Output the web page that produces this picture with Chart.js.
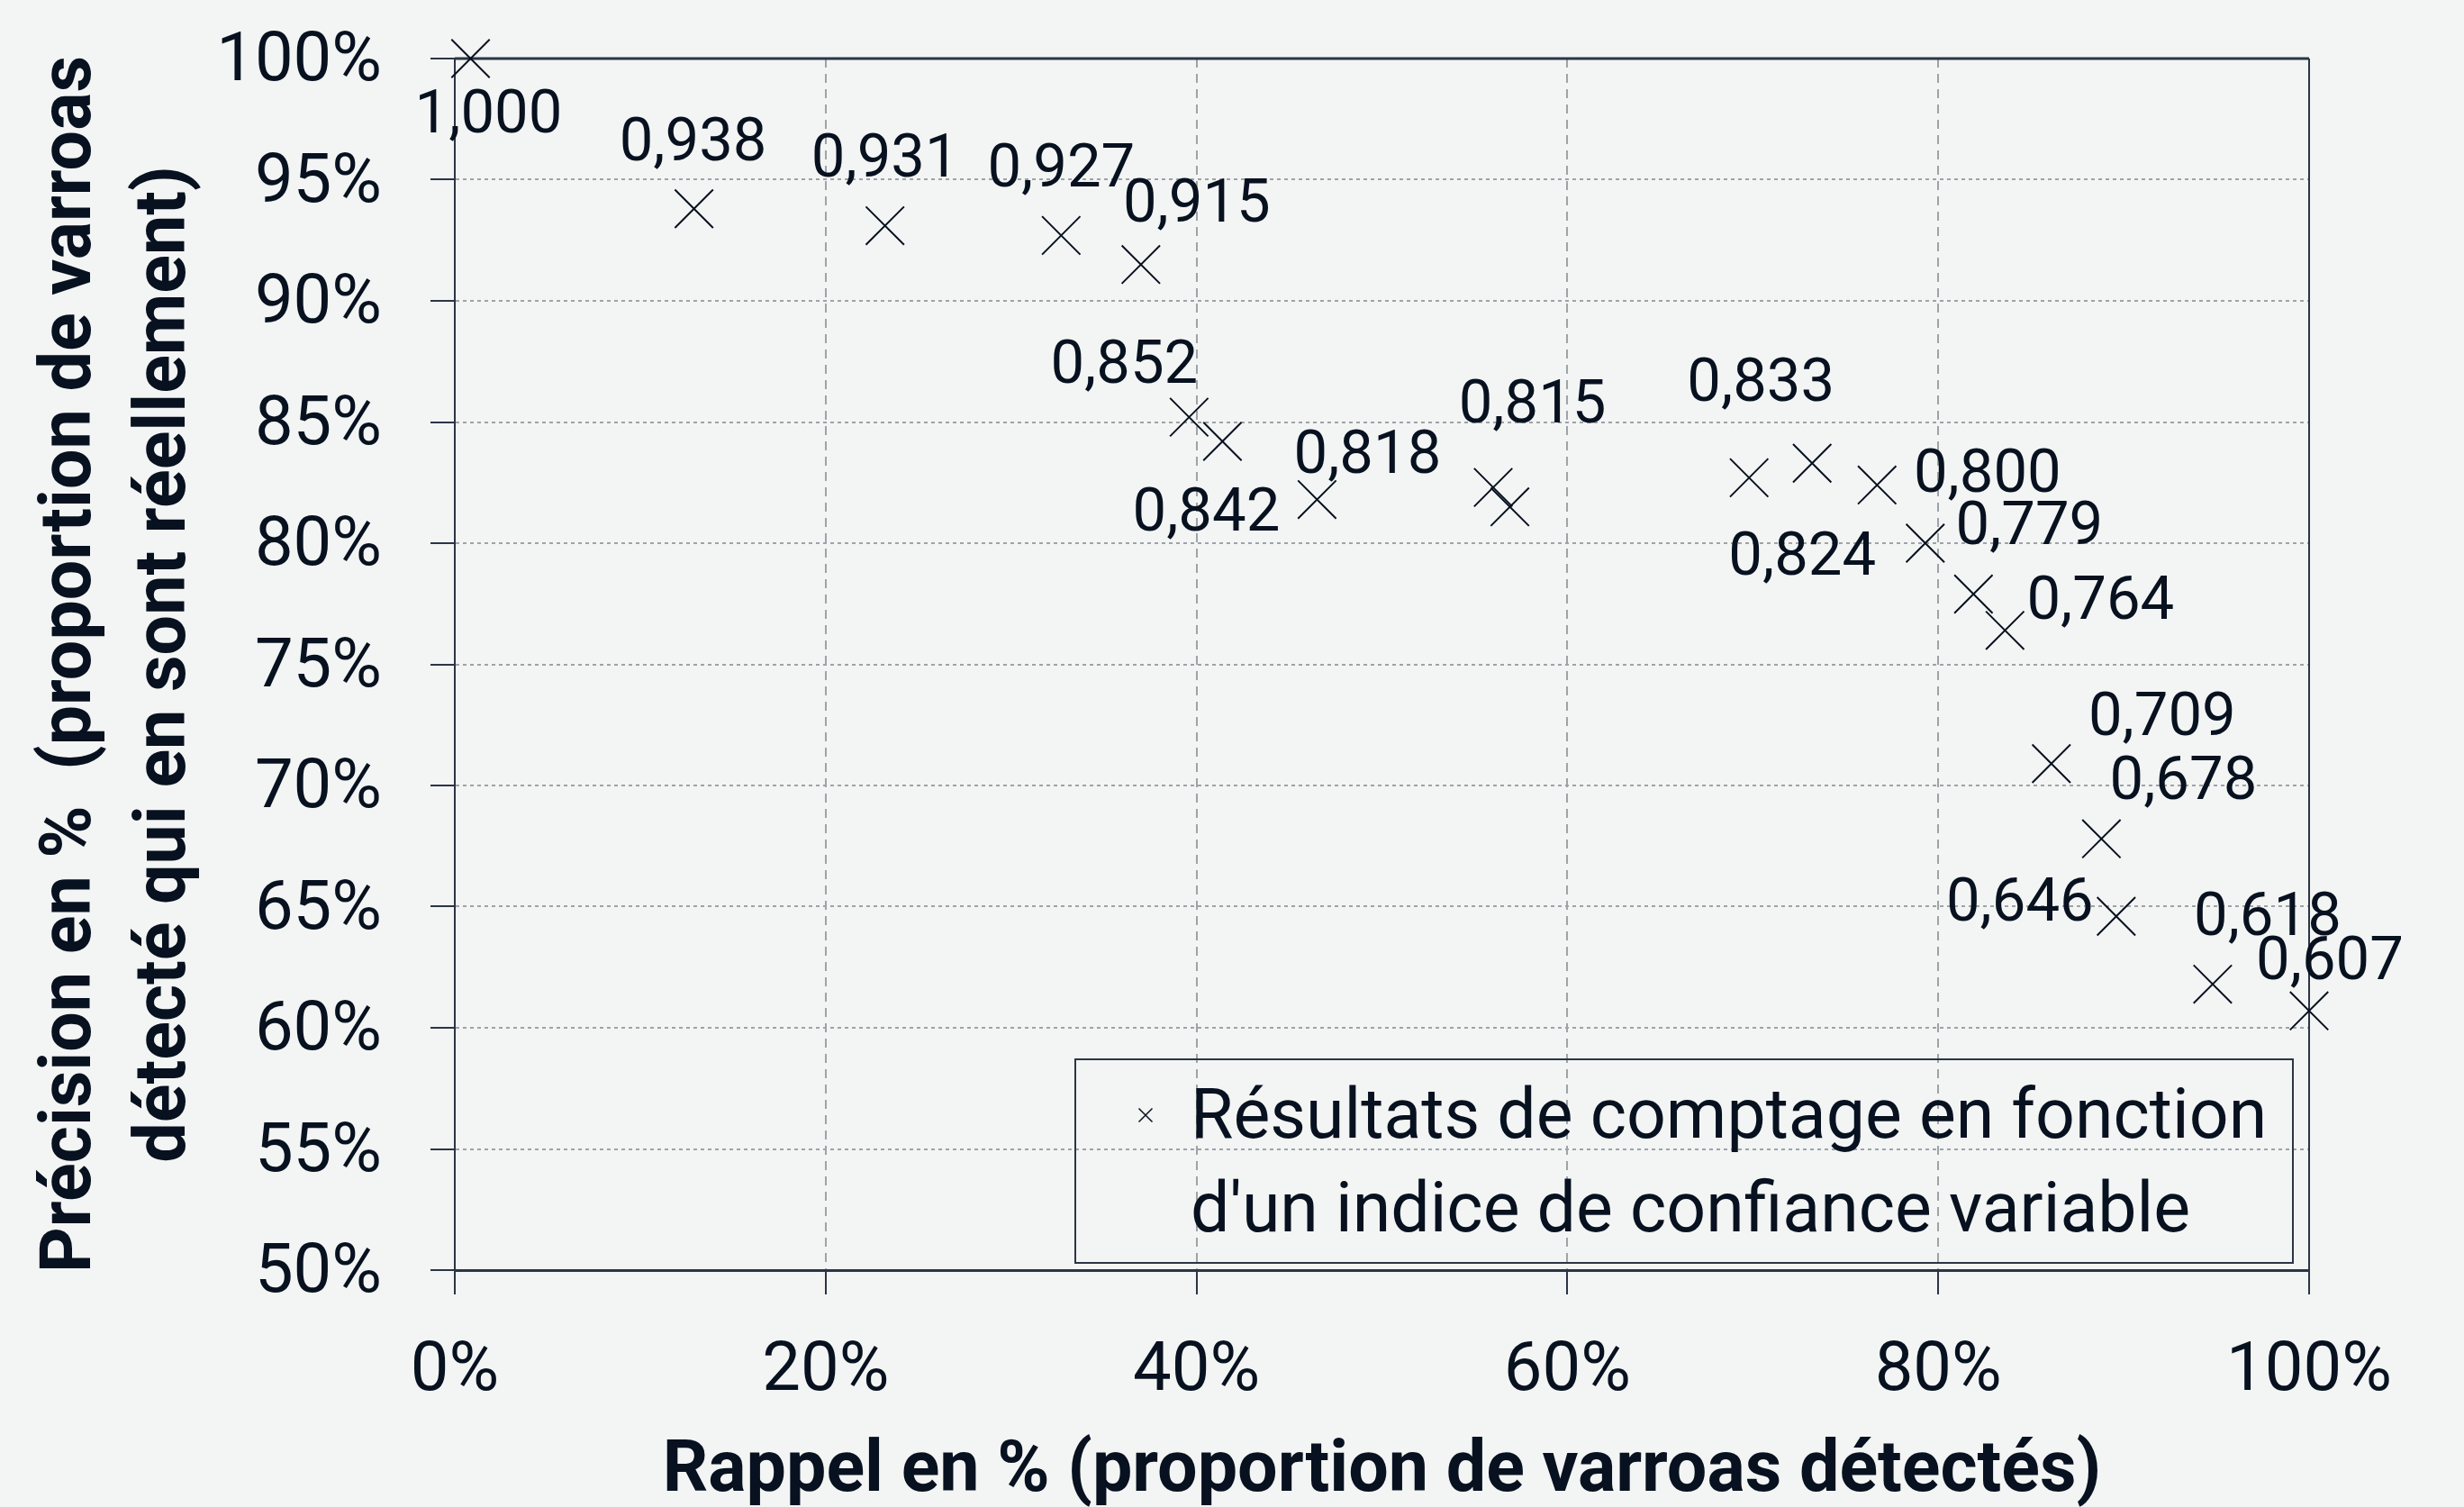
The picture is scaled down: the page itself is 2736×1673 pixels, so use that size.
<!DOCTYPE html>
<html>
<head>
<meta charset="utf-8">
<script src="https://cdn.jsdelivr.net/npm/chart.js@4.4.0/dist/chart.umd.min.js"></script>
<style>
  html, body { margin: 0; padding: 0; background: #f3f5f4; }
  #wrap { width: 2736px; height: 1673px; }
</style>
</head>
<body>
<div id="wrap"><canvas id="prChart" width="2736" height="1673"></canvas></div>
<script>
// ── Précision / rappel ──
const recall    = [0.85, 12.9, 23.2, 32.7, 37.0, 39.6, 41.4, 46.5, 56.0, 56.9, 69.8,
                   73.2, 76.7, 79.3, 81.9, 83.6, 86.1, 88.8, 89.6, 94.8, 100];
const precision = [1.000, 0.938, 0.931, 0.927, 0.915, 0.852, 0.842, 0.818, 0.823, 0.815, 0.827,
                   0.833, 0.824, 0.800, 0.779, 0.764, 0.709, 0.678, 0.646, 0.618, 0.607];
const xTicks = [0, 20, 40, 60, 80, 100];
const yTicks = [50, 55, 60, 65, 70, 75, 80, 85, 90, 95, 100];

// label placement next to each cross (px), null = no label
const labelOffsets = [[20, 59], [-1, -77], [0, -77], [0, -77], [62, -70], [-72, -61], [-18, 76],
                      [56, -52], null, [25, -116], null, [-57, -92], [-83, 77], [69, -80],
                      [62, -78], [106, -36], [123, -55], [91, -67], [-107, -18], [61, -77], [23, -58]];

const INK = '#07111f';
const AXIS = '#2b3545';
const GRID = '#9ea3a8';
const FONT = 'Roboto';

const bgPlugin = {
  id: 'bg',
  beforeDraw(chart) {
    const c = chart.ctx;
    c.save();
    c.fillStyle = '#f3f5f4';
    c.fillRect(0, 0, chart.width, chart.height);
    c.restore();
  },
  beforeDatasetsDraw(chart) {
    // top + right frame of the plot area
    const {ctx: c, chartArea: a} = chart;
    c.save();
    c.strokeStyle = AXIS;
    c.lineWidth = 3;
    c.beginPath(); c.moveTo(a.left, a.top); c.lineTo(a.right, a.top); c.stroke();
    c.lineWidth = 2;
    c.beginPath(); c.moveTo(a.right, a.top); c.lineTo(a.right, a.bottom); c.stroke();
    c.restore();
  }
};

const labelPlugin = {
  id: 'pointLabels',
  afterDatasetsDraw(chart) {
    const c = chart.ctx;
    const meta = chart.getDatasetMeta(0);
    c.save();
    c.font = '67px ' + FONT;
    c.fillStyle = INK;
    c.textAlign = 'center';
    c.textBaseline = 'middle';
    meta.data.forEach((pt, i) => {
      const off = labelOffsets[i];
      if (!off) return;
      const txt = precision[i].toFixed(3).replace('.', ',');
      c.fillText(txt, pt.x + off[0], pt.y + off[1] + 6);
    });
    c.restore();
  }
};

const legendPlugin = {
  id: 'boxLegend',
  afterDraw(chart) {
    const {ctx: c, chartArea: a} = chart;
    const ds = chart.data.datasets[0];
    const lines = ds.label.split('\n');
    const right = a.right - 18, bottom = a.bottom - 8;
    const left = right - 1352, top = bottom - 226;
    c.save();
    c.strokeStyle = AXIS;
    c.lineWidth = 2;
    c.strokeRect(left, top, right - left, bottom - top);
    // marker
    c.lineWidth = 1.5;
    c.strokeStyle = INK;
    const mx = left + 78, my = top + 62, r = 7.5;
    c.beginPath();
    c.moveTo(mx - r, my - r); c.lineTo(mx + r, my + r);
    c.moveTo(mx - r, my + r); c.lineTo(mx + r, my - r);
    c.stroke();
    c.font = '77px ' + FONT;
    c.fillStyle = INK;
    c.textAlign = 'left';
    c.textBaseline = 'alphabetic';
    lines.forEach((t, i) => c.fillText(t, left + 128, top + 87 + i * 104));
    c.restore();
  }
};

new Chart(document.getElementById('prChart').getContext('2d'), {
  type: 'scatter',
  data: {
    datasets: [{
      label: "Résultats de comptage en fonction\nd'un indice de confiance variable",
      data: recall.map((r, i) => ({ x: r, y: precision[i] * 100 })),
      pointStyle: 'crossRot',
      pointRadius: 30,
      pointHoverRadius: 30,
      borderColor: INK,
      backgroundColor: INK,
      borderWidth: 2,
      clip: false
    }]
  },
  options: {
    responsive: false,
    animation: false,
    devicePixelRatio: 1,
    layout: { autoPadding: false, padding: { left: 0, right: 172, top: 65, bottom: 0 } },
    plugins: { legend: { display: false }, tooltip: { enabled: false } },
    scales: {
      x: {
        type: 'linear', min: 0, max: 100,
        afterBuildTicks: s => { s.ticks = xTicks.map(v => ({ value: v })); },
        afterFit: s => { s.height = 263; s.paddingLeft = 0; s.paddingRight = 0; },
        grid: { color: GRID, lineWidth: 2, tickColor: AXIS, tickLength: 27, tickWidth: 2 },
        border: { color: AXIS, width: 3, dash: [10, 7] },
        ticks: { padding: 41, color: INK, font: { family: FONT, size: 76 }, callback: v => v + '%' },
        title: {
          display: true, text: 'Rappel en % (proportion de varroas détectés)', color: INK,
          font: { family: FONT, size: 79, weight: 'bold', lineHeight: 1.0 }, padding: { top: 0, bottom: -2 }
        }
      },
      y: {
        type: 'linear', min: 50, max: 100,
        afterBuildTicks: s => { s.ticks = yTicks.map(v => ({ value: v })); },
        afterFit: s => { s.width = 505; s.paddingTop = 0; s.paddingBottom = 0; },
        grid: { color: GRID, lineWidth: 2, tickColor: AXIS, tickLength: 27, tickWidth: 2 },
        border: { color: AXIS, width: 2, dash: [4, 4] },
        // empty first line nudges the single visible line down a few px
        ticks: { padding: 54, color: INK, font: { family: FONT, size: 76, lineHeight: '10px' }, callback: v => ['', v + '%'] },
        title: {
          display: true, text: ['Précision en %  (proportion de varroas', 'détecté qui en sont réellement)'],
          color: INK, font: { family: FONT, size: 79, weight: 'bold', lineHeight: 1.33 },
          padding: { top: 28, bottom: 0 }
        }
      }
    }
  },
  plugins: [bgPlugin, labelPlugin, legendPlugin]
});
</script>
</body>
</html>
